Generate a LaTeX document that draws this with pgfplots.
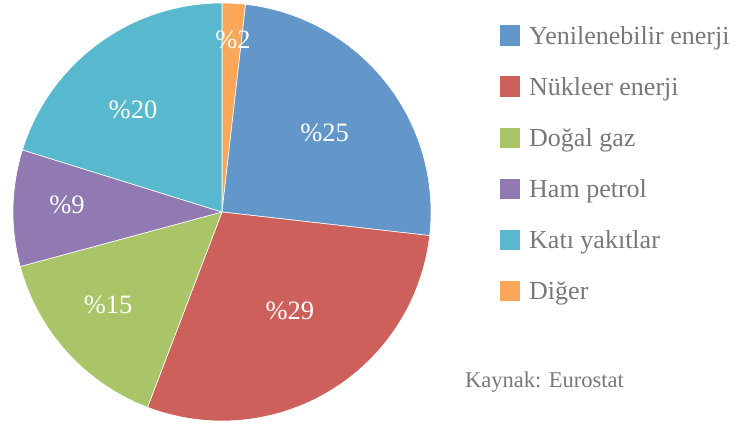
\documentclass[border=0pt]{standalone}
\usepackage{pgfplots}
\pgfplotsset{compat=1.18}
\usepackage{fontspec}
\setmainfont{Liberation Serif}
\definecolor{cYen}{RGB}{99,150,201}
\definecolor{cNuk}{RGB}{205,96,90}
\definecolor{cDog}{RGB}{170,196,104}
\definecolor{cHam}{RGB}{145,122,178}
\definecolor{cKati}{RGB}{88,184,206}
\definecolor{cDiger}{RGB}{250,167,90}
\definecolor{txtgray}{RGB}{120,120,120}
% slices clockwise from the top: value/colour
\def\pievalues{1.8/cDiger, 25/cYen, 29/cNuk, 15/cDog, 9/cHam, 20.2/cKati}
\begin{document}
\begin{tikzpicture}
\useasboundingbox (0pt,0pt) rectangle (739pt,424pt);
\xdef\cum{90}
\foreach \v/\c [count=\i] in \pievalues {
  \pgfmathsetmacro\a{\cum}
  \pgfmathsetmacro\b{\cum-3.6*\v}
  \expandafter\xdef\csname pieA\i\endcsname{\a}
  \expandafter\xdef\csname pieB\i\endcsname{\b}
  \expandafter\xdef\csname pieC\i\endcsname{\c}
  \xdef\cum{\b}
}
\begin{axis}[at={(222pt,212pt)}, anchor=center, width=418pt, height=418pt,
  scale only axis, xmin=-1, xmax=1, ymin=-1, ymax=1, hide axis, clip=false]
\pgfplotsinvokeforeach{1,...,6}{
  \edef\temp{\noexpand\fill[\csname pieC#1\endcsname, draw=white, line width=0.6pt]
    (axis cs:0,0) -- (axis cs:{cos(\csname pieA#1\endcsname)},{sin(\csname pieA#1\endcsname)})
    arc[start angle=\csname pieA#1\endcsname, end angle=\csname pieB#1\endcsname, radius=209pt] -- cycle;}
  \temp
}
\addplot[only marks, mark=none, nodes near coords, point meta=explicit symbolic,
  every node near coord/.style={anchor=center, text=white, font=\fontsize{26.5}{30}\selectfont}]
  coordinates {
  (0.053,0.823) [\%2]
  (0.491,0.378) [\%25]
  (0.325,-0.474) [\%29]
  (-0.545,-0.445) [\%15]
  (-0.742,0.033) [\%9]
  (-0.426,0.488) [\%20]
};
\end{axis}
% legend
\foreach \c/\t [count=\k from 0] in {cYen/Yenilenebilir enerji, cNuk/Nükleer enerji, cDog/Doğal gaz, cHam/Ham petrol, cKati/Katı yakıtlar, cDiger/Diğer} {
  \fill[\c] (499.5pt,{(424-25.5-51*\k)*1pt}) rectangle ++(20.5pt,-20.5pt);
  \node[anchor=base west, inner sep=0pt, text=txtgray, font=\fontsize{26}{30}\selectfont]
    at (529pt,{(424-44.5-51*\k)*1pt}) {\t};
}
\node[anchor=base west, inner sep=0pt, text=txtgray, font=\fontsize{22.5}{26}\selectfont]
  at (465pt,{(424-387)*1pt}) {Kaynak: Eurostat};
\end{tikzpicture}
\end{document}
